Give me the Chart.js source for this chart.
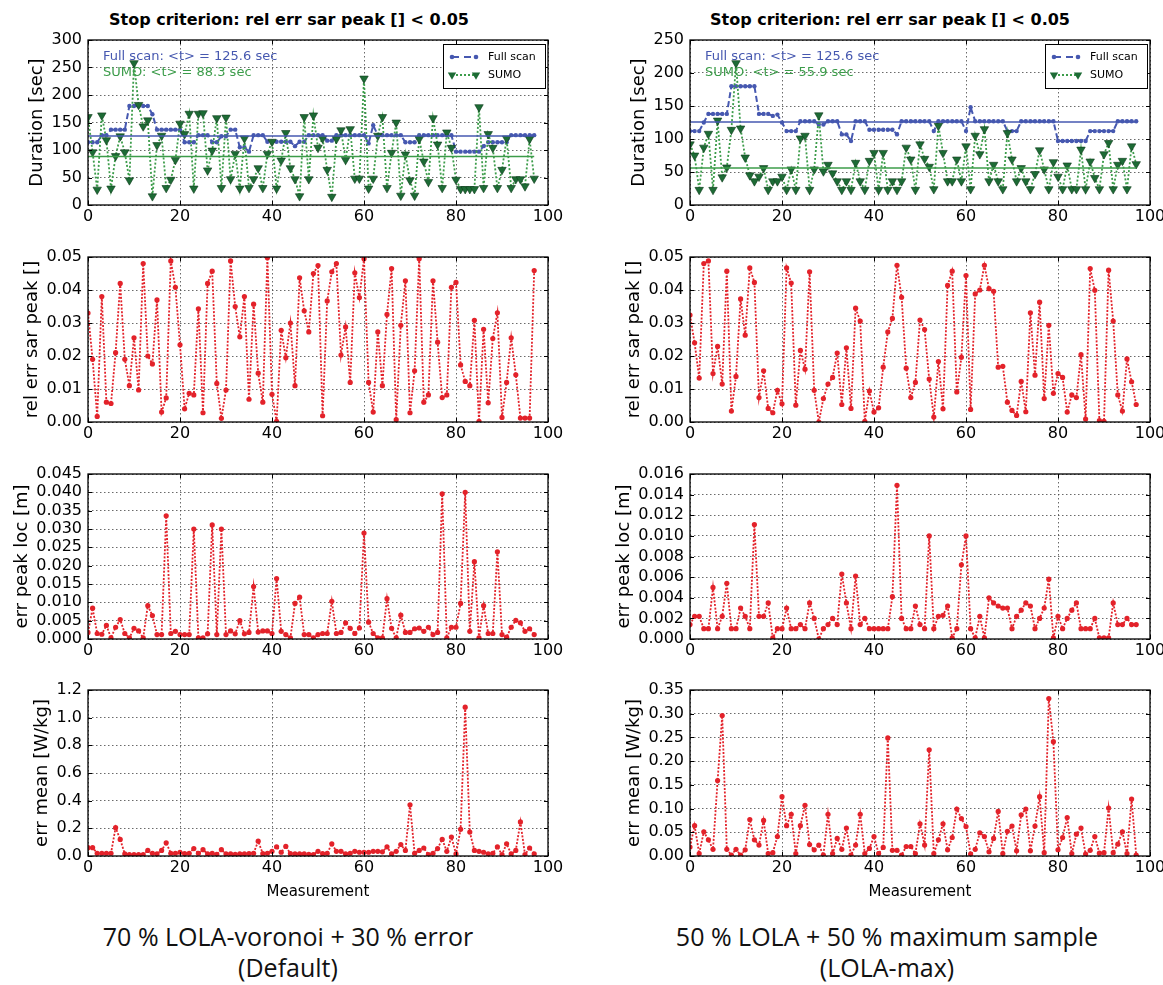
<!DOCTYPE html>
<html>
<head>
<meta charset="utf-8">
<script src="https://cdn.jsdelivr.net/npm/chart.js@4.4.0/dist/chart.umd.min.js"></script>
<style>
  body { margin: 0; width: 1163px; height: 985px; overflow: hidden; background: #fff; position: relative; }
  .title { position: absolute; top: 10px; width: 440px; text-align: center; font: bold 16px 'DejaVu Sans', sans-serif; color: #000; white-space: nowrap; }
  .cap { position: absolute; top: 921px; width: 560px; text-align: center; font: 25px/31px 'Open Sans', sans-serif; color: #111; }
</style>
</head>
<body>
<div class="title" style="left:69px">Stop criterion: rel err sar peak [] &lt; 0.05</div>
<div class="title" style="left:670px">Stop criterion: rel err sar peak [] &lt; 0.05</div>
<div class="cap" style="left:8px">70 % LOLA-voronoi + 30 % error<br>(Default)</div>
<div class="cap" style="left:607px">50 % LOLA + 50 % maximum sample<br>(LOLA-max)</div>

<script>
  // ---- data (measurement index 0..97) ----
  const meanFullL = 125.6, meanSumoL = 88.3;
  const meanFullR = 125.6, meanSumoR = 55.9;

  // Duration [sec], left = Default, right = LOLA-max
  const fullL = [
    114,114,114,127,127,137,137,137,137,180,
    180,180,180,180,165,137,137,137,137,137,
    137,114,114,114,127,127,127,114,114,125,
    125,137,137,105,105,97,127,127,127,115,
    115,115,115,115,115,107,115,115,127,127,
    127,127,117,117,127,127,127,127,127,127,
    127,112,145,127,127,127,127,127,127,114,
    114,114,127,127,127,127,127,127,127,127,
    97,97,97,97,97,97,107,114,114,114,
    114,114,127,127,127,127,127,127];
  const sumoL = [
    160,96,28,163,118,30,89,125,96,45,
    258,182,143,154,16,109,126,31,46,82,
    148,129,166,30,166,167,63,99,158,31,
    159,47,93,30,121,31,47,67,31,93,
    115,30,81,131,67,47,16,160,47,163,
    104,121,64,15,120,136,82,138,48,48,
    230,30,48,126,160,31,95,150,17,92,
    45,17,120,79,42,158,110,31,132,104,
    46,29,29,29,29,178,31,129,104,31,
    64,121,31,47,47,34,120,48];
  const fullR = [
    112,112,112,125,138,138,138,138,138,180,
    180,180,180,180,180,138,138,138,135,137,
    125,112,112,112,127,127,127,127,122,122,
    127,127,127,107,107,97,127,127,127,114,
    114,114,114,114,114,107,127,127,127,127,
    127,127,127,112,127,127,127,127,127,127,
    112,148,127,127,127,127,127,127,127,112,
    112,112,127,127,127,127,127,127,127,127,
    97,97,97,97,97,97,97,112,112,112,
    112,112,112,127,127,127,127,127];
  const sumoR = [
    92,75,23,87,108,23,128,42,57,114,
    215,116,72,45,36,43,56,23,36,36,
    43,23,54,23,101,105,23,54,136,51,
    61,48,36,23,36,23,64,36,23,67,
    79,23,79,23,36,23,36,87,69,23,
    92,70,58,24,120,79,36,36,69,36,
    89,24,105,77,115,36,61,36,24,109,
    69,36,56,36,24,47,83,54,24,65,
    43,24,60,24,24,84,24,66,41,24,
    77,94,24,61,67,24,89,62];

  // rel err sar peak []
  const relErrL = [
    0.033,0.019,0.0017,0.038,0.006,0.0056,0.021,0.042,0.019,0.011,
    0.0255,0.0097,0.048,0.020,0.0176,0.037,0.003,0.0073,0.0488,0.0408,
    0.0234,0.004,0.0087,0.0082,0.0343,0.0028,0.042,0.0457,0.0117,0.0011,
    0.0097,0.0488,0.035,0.0258,0.038,0.0069,0.0357,0.0148,0.006,0.0498,
    0.0084,0.0002,0.0278,0.0195,0.030,0.011,0.0437,0.0337,0.0273,0.045,
    0.0474,0.0019,0.0367,0.0455,0.048,0.0203,0.0288,0.012,0.0452,0.0377,
    0.0495,0.012,0.003,0.0273,0.011,0.0326,0.0465,0.0007,0.0293,0.0428,
    0.0028,0.0155,0.0495,0.006,0.0082,0.0428,0.0242,0.0074,0.0082,0.0408,
    0.0423,0.0173,0.0123,0.011,0.0308,0.0002,0.0281,0.0058,0.0253,0.0331,
    0.0014,0.012,0.0255,0.0143,0.0012,0.0012,0.0012,0.0459];
  const relErrR = [
    0.0324,0.024,0.0133,0.048,0.0488,0.0147,0.0229,0.0115,0.0457,0.0033,
    0.0138,0.0373,0.0263,0.0467,0.0423,0.0074,0.0155,0.0041,0.0028,0.0096,
    0.0055,0.0467,0.0421,0.0051,0.0217,0.016,0.0455,0.0096,0.0,0.0071,
    0.0115,0.0135,0.0209,0.0053,0.0225,0.0041,0.0345,0.0306,0.0002,0.0094,
    0.003,0.0043,0.0166,0.0273,0.0314,0.0475,0.0378,0.0163,0.0074,0.012,
    0.0309,0.028,0.013,0.0015,0.0183,0.004,0.0414,0.0457,0.0091,0.0196,
    0.0444,0.0038,0.0388,0.040,0.0475,0.0404,0.0396,0.0166,0.0169,0.006,
    0.0035,0.002,0.0123,0.0031,0.0331,0.0142,0.0363,0.0071,0.0293,0.0087,
    0.0147,0.0135,0.003,0.0082,0.0074,0.0204,0.0009,0.0465,0.0399,0.0004,
    0.0002,0.046,0.0306,0.0082,0.0033,0.0191,0.0122,0.0053];

  // err peak loc [m]
  const peakLocL = [
    0.0018,0.0084,0.0015,0.0013,0.0037,0.0003,0.0032,0.0053,0.0015,0.0003,
    0.0029,0.0022,0.0003,0.0091,0.0064,0.0012,0.0012,0.0336,0.0015,0.0021,
    0.0012,0.0012,0.0012,0.030,0.0003,0.0003,0.0014,0.0311,0.0012,0.030,
    0.0012,0.0022,0.0014,0.005,0.0014,0.0018,0.0143,0.0019,0.0022,0.0022,
    0.0015,0.0165,0.0021,0.0012,0.0003,0.0097,0.0114,0.0012,0.0012,0.0003,
    0.0012,0.0015,0.0015,0.0103,0.0015,0.0018,0.0044,0.0029,0.0015,0.003,
    0.0289,0.0046,0.0015,0.0003,0.0003,0.011,0.0029,0.0003,0.0065,0.0018,
    0.0018,0.0028,0.003,0.0021,0.0032,0.0012,0.0018,0.0396,0.0003,0.0032,
    0.0032,0.0097,0.040,0.0021,0.0211,0.0003,0.0091,0.0015,0.0015,0.0238,
    0.0012,0.0005,0.0032,0.0051,0.0044,0.0021,0.0028,0.0012];
  const peakLocR = [
    0.0014,0.0022,0.0022,0.001,0.001,0.005,0.001,0.0022,0.0054,0.001,
    0.001,0.003,0.0022,0.001,0.0111,0.0022,0.0022,0.0035,0.0001,0.001,
    0.001,0.003,0.001,0.001,0.0014,0.001,0.0035,0.002,0.0,0.001,
    0.0014,0.002,0.0014,0.0063,0.0035,0.001,0.0061,0.0014,0.002,0.001,
    0.001,0.001,0.001,0.001,0.0041,0.0149,0.002,0.001,0.001,0.0032,
    0.0014,0.001,0.010,0.001,0.0022,0.0023,0.0032,0.0001,0.001,0.0072,
    0.010,0.001,0.0001,0.0022,0.0001,0.004,0.0035,0.0032,0.003,0.003,
    0.001,0.0022,0.0028,0.0035,0.0032,0.001,0.002,0.003,0.0058,0.0001,
    0.0022,0.001,0.002,0.0028,0.0035,0.001,0.001,0.001,0.002,0.0001,
    0.0001,0.0001,0.0035,0.0014,0.0014,0.002,0.0014,0.0014];

  // err mean [W/kg]
  const errMeanL = [
    0.06,0.06,0.02,0.02,0.02,0.02,0.205,0.12,0.015,0.01,
    0.01,0.01,0.01,0.04,0.02,0.015,0.04,0.095,0.02,0.02,
    0.027,0.017,0.02,0.054,0.02,0.046,0.015,0.02,0.012,0.046,
    0.015,0.015,0.012,0.015,0.015,0.018,0.02,0.107,0.017,0.02,
    0.034,0.066,0.027,0.07,0.017,0.015,0.015,0.015,0.012,0.01,
    0.034,0.017,0.02,0.088,0.034,0.034,0.015,0.02,0.034,0.027,
    0.027,0.027,0.034,0.034,0.03,0.066,0.015,0.034,0.083,0.04,
    0.37,0.02,0.04,0.058,0.01,0.02,0.054,0.12,0.034,0.137,
    0.015,0.193,1.076,0.173,0.04,0.034,0.027,0.015,0.02,0.066,
    0.01,0.088,0.015,0.04,0.246,0.01,0.058,0.015];
  const errMeanR = [
    0.019,0.064,0.005,0.051,0.034,0.014,0.159,0.296,0.014,0.002,
    0.014,0.002,0.013,0.077,0.034,0.023,0.075,0.005,0.007,0.041,
    0.125,0.064,0.088,0.005,0.064,0.107,0.024,0.013,0.023,0.002,
    0.088,0.005,0.037,0.014,0.059,0.002,0.023,0.088,0.005,0.016,
    0.041,0.005,0.018,0.249,0.012,0.012,0.002,0.02,0.02,0.005,
    0.068,0.023,0.224,0.005,0.034,0.068,0.013,0.039,0.099,0.079,
    0.062,0.004,0.014,0.049,0.041,0.009,0.037,0.094,0.005,0.052,
    0.063,0.011,0.087,0.099,0.011,0.063,0.125,0.007,0.332,0.241,
    0.013,0.039,0.081,0.005,0.046,0.059,0.004,0.012,0.041,0.006,
    0.007,0.101,0.007,0.025,0.051,0.005,0.12,0.002];

  // ---- look ----
  const FONT = "'DejaVu Sans', sans-serif";
  const BLUE = '#4658b0';
  const GREEN_MARK = '#1d6b35';
  const GREEN = '#3c9c4a';
  const RED = '#e3222a';

  const PLOT_TOP = [40, 257, 474, 690];
  const PLOT_BOTTOM = [205, 422, 639, 856];

  const pts = arr => arr.map((y, x) => ({ x, y }));
  const flat = (v, n) => [{ x: 0, y: v }, { x: n - 1, y: v }];

  // plot frame, inward ticks, notes and legend box
  const framePlugin = {
    id: 'frame',
    afterDraw(chart, args, opts) {
      const { ctx, chartArea: a, scales } = chart;
      ctx.save();
      ctx.strokeStyle = '#000';
      ctx.lineWidth = 1;
      ctx.beginPath();
      scales.x.ticks.forEach(t => {
        const px = Math.round(scales.x.getPixelForValue(t.value)) + 0.5;
        ctx.moveTo(px, a.bottom); ctx.lineTo(px, a.bottom - 4);
        ctx.moveTo(px, a.top); ctx.lineTo(px, a.top + 4);
      });
      scales.y.ticks.forEach(t => {
        const py = Math.round(scales.y.getPixelForValue(t.value)) + 0.5;
        ctx.moveTo(a.left, py); ctx.lineTo(a.left + 4, py);
        ctx.moveTo(a.right, py); ctx.lineTo(a.right - 4, py);
      });
      ctx.stroke();
      ctx.lineWidth = 1.3;
      ctx.strokeRect(a.left, a.top, a.right - a.left, a.bottom - a.top);

      if (opts.notes) {
        ctx.font = '13px ' + FONT;
        ctx.textBaseline = 'middle';
        opts.notes.forEach((n, i) => {
          ctx.fillStyle = n.color;
          ctx.fillText(n.text, a.left + 15, a.top + 17 + i * 16);
        });
      }

      if (opts.legend) {
        const w = 102, h = 44, x = a.right - w - 3, y = a.top + 4;
        ctx.fillStyle = '#fff';
        ctx.fillRect(x, y, w, h);
        ctx.strokeStyle = '#000';
        ctx.lineWidth = 1;
        ctx.strokeRect(x + 0.5, y + 0.5, w, h);
        const x0 = x + 9, x1 = x + 33, y1 = y + 13, y2 = y + 31;
        // Full scan
        ctx.strokeStyle = BLUE; ctx.lineWidth = 2;
        ctx.setLineDash([7, 5]);
        ctx.beginPath(); ctx.moveTo(x0, y1); ctx.lineTo(x1, y1); ctx.stroke();
        ctx.setLineDash([]);
        ctx.fillStyle = BLUE;
        [x0, x1].forEach(px => { ctx.beginPath(); ctx.arc(px, y1, 2.3, 0, Math.PI * 2); ctx.fill(); });
        // SUMO
        ctx.strokeStyle = GREEN; ctx.setLineDash([2, 2]);
        ctx.beginPath(); ctx.moveTo(x0, y2); ctx.lineTo(x1, y2); ctx.stroke();
        ctx.setLineDash([]);
        ctx.fillStyle = GREEN_MARK;
        [x0, x1].forEach(px => {
          ctx.beginPath();
          ctx.moveTo(px - 4.2, y2 - 2.4); ctx.lineTo(px + 4.2, y2 - 2.4); ctx.lineTo(px, y2 + 4.8);
          ctx.closePath(); ctx.fill();
        });
        ctx.fillStyle = '#000';
        ctx.font = '11px ' + FONT;
        ctx.textBaseline = 'middle';
        ctx.fillText('Full scan', x + 45, y1);
        ctx.fillText('SUMO', x + 45, y2);
      }
      ctx.restore();
    }
  };
  Chart.register(framePlugin);

  function redSeries(vals) {
    return [{
      data: pts(vals),
      borderColor: RED,
      backgroundColor: RED,
      borderWidth: 1.8,
      borderDash: [2, 1.6],
      pointRadius: 2.6,
      pointBorderWidth: 0
    }];
  }

  function durationSeries(full, sumo, mFull, mSumo) {
    return [
      { data: flat(mFull, full.length), borderColor: BLUE, borderWidth: 1.5, pointRadius: 0 },
      { data: flat(mSumo, sumo.length), borderColor: GREEN, borderWidth: 1.5, pointRadius: 0 },
      {
        label: 'SUMO', data: pts(sumo),
        borderColor: GREEN, borderWidth: 1.8, borderDash: [2, 2],
        pointStyle: 'triangle', pointRotation: 180, pointRadius: 4.9,
        pointBackgroundColor: GREEN_MARK, pointBorderColor: '#0d3b1b', pointBorderWidth: 0.6
      },
      {
        label: 'Full scan', data: pts(full),
        borderColor: BLUE, backgroundColor: BLUE, borderWidth: 2, borderDash: [6, 3],
        pointRadius: 2.2, pointBorderWidth: 0
      }
    ];
  }

  function panel(col, row, y, datasets, frameOpts) {
    const left = col ? 602 : 0;
    const width = col ? 561 : 575;
    const padRight = col ? 13 : 27;
    const padTop = 12;
    const xh = row === 3 ? 50 : 28;
    const top = PLOT_TOP[row] - padTop;
    const height = padTop + PLOT_BOTTOM[row] - PLOT_TOP[row] + xh;

    const wrap = document.createElement('div');
    wrap.style.cssText = `position:absolute;left:${left}px;top:${top}px;width:${width}px;height:${height}px`;
    const cv = document.createElement('canvas');
    cv.width = width; cv.height = height;
    cv.style.width = width + 'px'; cv.style.height = height + 'px';
    wrap.appendChild(cv);
    document.body.appendChild(wrap);

    new Chart(cv, {
      type: 'line',
      data: { datasets },
      options: {
        responsive: false,
        animation: false,
        events: [],
        layout: { padding: { left: 0, right: padRight, top: padTop, bottom: 0 } },
        plugins: { legend: { display: false }, tooltip: { enabled: false }, frame: frameOpts || {} },
        scales: {
          x: {
            type: 'linear', min: 0, max: 100,
            ticks: { stepSize: 20, color: '#000', font: { family: FONT, size: 16 }, padding: 2, maxRotation: 0 },
            grid: { color: '#444', lineWidth: 0.8, drawTicks: false },
            border: { display: false, dash: [1.5, 2.5] },
            title: row === 3
              ? { display: true, text: 'Measurement', color: '#000', font: { family: FONT, size: 15 }, padding: { top: 0, bottom: 5 } }
              : { display: false },
            afterFit: s => { s.height = xh; s.paddingLeft = 0; s.paddingRight = 0; }
          },
          y: {
            type: 'linear', min: 0, max: y.max,
            ticks: {
              count: Math.round(y.max / y.step) + 1,
              autoSkip: false,
              color: '#000', font: { family: FONT, size: 16 }, padding: 6,
              callback: v => Number(v).toFixed(y.dec)
            },
            grid: { color: '#444', lineWidth: 0.8, drawTicks: false },
            border: { display: false, dash: [1.5, 2.5] },
            title: { display: true, text: y.title, color: '#000', font: { family: FONT, size: 18 }, padding: { top: y.tpad, bottom: 0 } },
            afterFit: s => { s.width = 88; s.paddingTop = 0; s.paddingBottom = 0; }
          }
        }
      }
    });
  }

  // left column: 70 % LOLA-voronoi + 30 % error (Default)
  panel(0, 0, { max: 300, step: 50, dec: 0, title: 'Duration [sec]', tpad: 27 },
    durationSeries(fullL, sumoL, meanFullL, meanSumoL),
    { legend: true, notes: [
      { text: `Full scan: <t> = ${meanFullL} sec`, color: BLUE },
      { text: `SUMO: <t> = ${meanSumoL} sec`, color: GREEN } ] });
  panel(0, 1, { max: 0.05, step: 0.01, dec: 2, title: 'rel err sar peak []', tpad: 22 }, redSeries(relErrL));
  panel(0, 2, { max: 0.045, step: 0.005, dec: 3, title: 'err peak loc [m]', tpad: 12 }, redSeries(peakLocL));
  panel(0, 3, { max: 1.2, step: 0.2, dec: 1, title: 'err mean [W/kg]', tpad: 32 }, redSeries(errMeanL));

  // right column: 50 % LOLA + 50 % maximum sample (LOLA-max)
  panel(1, 0, { max: 250, step: 50, dec: 0, title: 'Duration [sec]', tpad: 27 },
    durationSeries(fullR, sumoR, meanFullR, meanSumoR),
    { legend: true, notes: [
      { text: `Full scan: <t> = ${meanFullR} sec`, color: BLUE },
      { text: `SUMO: <t> = ${meanSumoR} sec`, color: GREEN } ] });
  panel(1, 1, { max: 0.05, step: 0.01, dec: 2, title: 'rel err sar peak []', tpad: 22 }, redSeries(relErrR));
  panel(1, 2, { max: 0.016, step: 0.002, dec: 3, title: 'err peak loc [m]', tpad: 12 }, redSeries(peakLocR));
  panel(1, 3, { max: 0.35, step: 0.05, dec: 2, title: 'err mean [W/kg]', tpad: 22 }, redSeries(errMeanR));
</script>
</body>
</html>
